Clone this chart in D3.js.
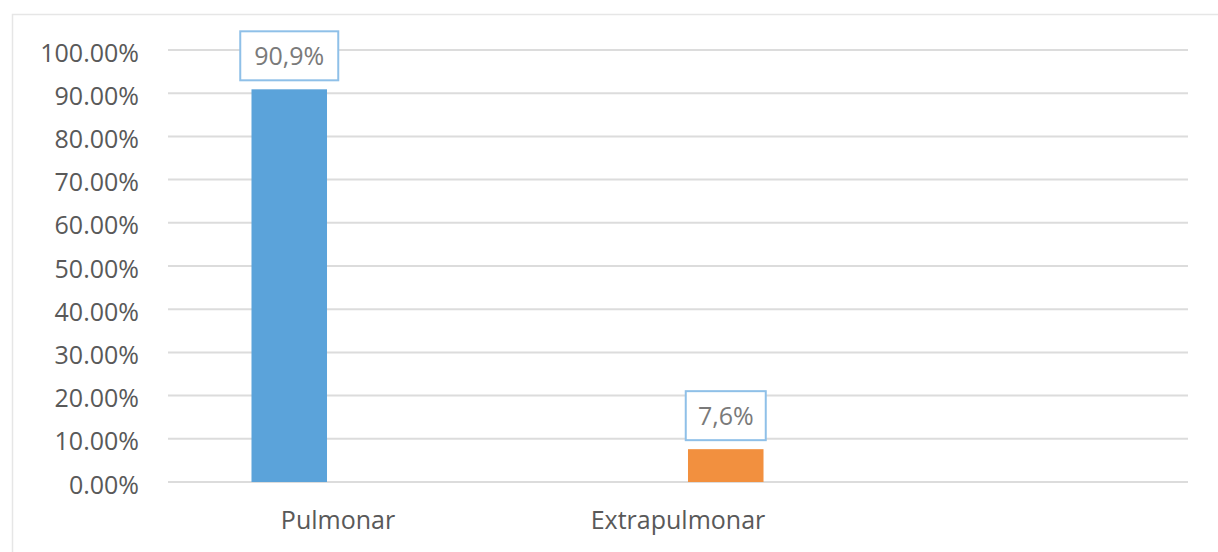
<!DOCTYPE html>
<html>
<head>
<meta charset="utf-8">
<script src="https://cdn.jsdelivr.net/npm/d3@7"></script>
<style>
  html, body { margin: 0; padding: 0; background: #fff; }
  svg { display: block; }
</style>
</head>
<body>
<svg id="chart" width="1218" height="552"></svg>
<script>
// Share of tuberculosis cases by localisation
const categories = ["Pulmonar", "Extrapulmonar"];
const values = [90.9, 7.6];
const valueLabels = ["90,9%", "7,6%"];
const barColors = ["#5ba3da", "#f2903f"];
const yTicks = [0, 10, 20, 30, 40, 50, 60, 70, 80, 90, 100];

const svg = d3.select("#chart");
const font = "'Open Sans', sans-serif";

// chart frame
svg.append("path")
  .attr("d", "M12.5,560 V14.5 H1230")
  .attr("fill", "none")
  .attr("stroke", "#e6e6e6")
  .attr("stroke-width", 1.5);

const plot = { left: 168, right: 1188, top: 50, bottom: 482 };

const y = d3.scaleLinear().domain([0, 100]).range([plot.bottom, plot.top]);

// bar positions
const x = d3.scaleBand()
  .domain(categories)
  .range([71, 944])
  .paddingInner(0.827)
  .paddingOuter(0.4135);

// category label slots along the bottom axis
const xLabel = d3.scaleBand()
  .domain(categories)
  .range([plot.left, plot.left + 680]);

// horizontal grid
svg.append("g")
  .selectAll("line")
  .data(yTicks)
  .join("line")
  .attr("x1", plot.left)
  .attr("x2", plot.right)
  .attr("y1", d => y(d))
  .attr("y2", d => y(d))
  .attr("stroke", "#dcdcdc")
  .attr("stroke-width", 2);

// y axis labels
const yAxis = d3.axisLeft(y)
  .tickValues(yTicks)
  .tickSize(0)
  .tickPadding(0)
  .tickFormat(d => d.toFixed(2) + "%");
const gy = svg.append("g")
  .attr("transform", "translate(139,2)")
  .call(yAxis);
gy.select(".domain").remove();
gy.selectAll("text")
  .attr("font-family", font)
  .attr("font-size", 25)
  .attr("fill", "#595959")
  .attr("dy", "0.36em");

// bars
svg.append("g")
  .selectAll("rect")
  .data(categories)
  .join("rect")
  .attr("x", d => x(d))
  .attr("width", x.bandwidth())
  .attr("y", (d, i) => y(values[i]))
  .attr("height", (d, i) => y(0) - y(values[i]))
  .attr("fill", (d, i) => barColors[i]);

// value labels in outlined boxes
const lbl = svg.append("g")
  .selectAll("g")
  .data(categories)
  .join("g")
  .attr("transform", (d, i) => `translate(${x(d) + x.bandwidth() / 2},${y(values[i]) - 9})`);

lbl.append("rect")
  .attr("x", (d, i) => i === 0 ? -49 : -40)
  .attr("width", (d, i) => i === 0 ? 98 : 80)
  .attr("y", -49)
  .attr("height", 49)
  .attr("fill", "#fff")
  .attr("stroke", "#8fc0e8")
  .attr("stroke-width", 2);

lbl.append("text")
  .attr("text-anchor", "middle")
  .attr("y", -15)
  .attr("font-family", font)
  .attr("font-size", 25)
  .attr("fill", "#7a7a7a")
  .text((d, i) => valueLabels[i]);

// category labels
const xAxis = d3.axisBottom(xLabel).tickSize(0).tickPadding(0);
const gx = svg.append("g")
  .attr("transform", `translate(0,${plot.bottom + 47})`)
  .call(xAxis);
gx.select(".domain").remove();
gx.selectAll("text")
  .attr("font-family", font)
  .attr("font-size", 25)
  .attr("fill", "#595959")
  .attr("dy", 0);
</script>
</body>
</html>
